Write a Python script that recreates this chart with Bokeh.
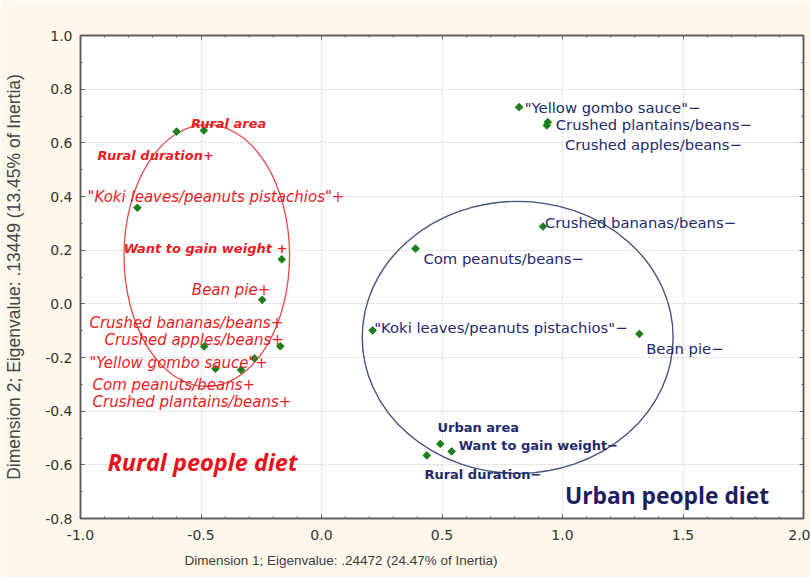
import math
from bokeh.plotting import figure
from bokeh.models import (ColumnDataSource, LinearAxis, Title, FixedTicker,
                          PrintfTickFormatter, Range1d)
from bokeh.core.properties import value
from bokeh.embed import file_html
from bokeh.resources import INLINE

# --- Category coordinates on dimensions 1 and 2 ---------------------------
rural_cats = ["Rural area", "Rural duration", "Koki leaves/peanuts pistachios",
              "Want to gain weight", "Bean pie", "Crushed bananas/beans",
              "Crushed apples/beans", "Yellow gombo sauce", "Com peanuts/beans",
              "Crushed plantains/beans"]
rural_dim1 = [-0.488, -0.601, -0.764, -0.165, -0.246, -0.171, -0.487, -0.279, -0.440, -0.334]
rural_dim2 = [0.646, 0.642, 0.358, 0.166, 0.015, -0.158, -0.159, -0.203, -0.242, -0.246]

urban_cats = ["Yellow gombo sauce", "Crushed plantains/beans", "Crushed apples/beans",
              "Crushed bananas/beans", "Com peanuts/beans", "Koki leaves/peanuts pistachios",
              "Bean pie", "Urban area", "Want to gain weight", "Rural duration"]
urban_dim1 = [0.820, 0.939, 0.935, 0.919, 0.390, 0.212, 1.319, 0.493, 0.540, 0.437]
urban_dim2 = [0.733, 0.677, 0.665, 0.288, 0.206, -0.099, -0.112, -0.522, -0.550, -0.565]

# Printed labels (category with its +/- modality)
rural_text = ["Rural area", "Rural duration+", "\"Koki leaves/peanuts pistachios\"+",
              "Want to gain weight +", "Bean pie+", "Crushed bananas/beans+",
              "Crushed apples/beans+", "\"Yellow gombo sauce\"+", "Com peanuts/beans+",
              "Crushed plantains/beans+"]
urban_text = ["\"Yellow gombo sauce\"\u2212", "Crushed plantains/beans\u2212",
              "Crushed apples/beans\u2212", "Crushed bananas/beans\u2212",
              "Com peanuts/beans\u2212", "\"Koki leaves/peanuts pistachios\"\u2212",
              "Bean pie\u2212", "Urban area", "Want to gain weight\u2212", "Rural duration\u2212"]
rural_bold = [True, True, False, True, False, False, False, False, False, False]
urban_bold = [False, False, False, False, False, False, False, True, True, True]

# Where each label's text starts (left edge, baseline), in axis units
rural_text_x = [-0.542, -0.929, -0.971, -0.821, -0.538, -0.963, -0.900, -0.963, -0.950, -0.950]
rural_text_y = [0.672, 0.553, 0.400, 0.206, 0.053, -0.070, -0.133, -0.219, -0.301, -0.364]
urban_text_x = [0.843, 0.972, 1.010, 0.927, 0.423, 0.219, 1.347, 0.481, 0.569, 0.427]
urban_text_y = [0.732, 0.668, 0.594, 0.303, 0.169, -0.088, -0.166, -0.461, -0.528, -0.636]

x_ticks = [-1.0, -0.5, 0.0, 0.5, 1.0, 1.5, 2.0]
y_ticks = [-0.8, -0.6, -0.4, -0.2, 0.0, 0.2, 0.4, 0.6, 0.8, 1.0]
x_minor = [round(-1.0 + 0.1 * i, 1) for i in range(31)]
y_minor = [round(-0.8 + 0.1 * i, 1) for i in range(19)]

RED = "#ea1c24"
NAVY = "#232a6c"
AXIS = "#5a5a5a"

p = figure(width=810, height=577, x_range=Range1d(-1.0, 2.0), y_range=Range1d(-0.8, 1.0),
           output_backend="svg", toolbar_location=None,
           min_border_left=80, min_border_right=7, min_border_top=35, min_border_bottom=59,
           background_fill_color="white", border_fill_color="#fdf8ea")

xticker = FixedTicker(ticks=x_ticks, minor_ticks=x_minor)
yticker = FixedTicker(ticks=y_ticks, minor_ticks=y_minor)


def style_axis(ax, ticker, labelled):
    ax.ticker = ticker
    ax.formatter = PrintfTickFormatter(format="%.1f")
    ax.axis_line_color = AXIS
    ax.axis_line_width = 1.5
    ax.major_tick_in = 4
    ax.major_tick_out = 0
    ax.minor_tick_in = 2
    ax.minor_tick_out = 0
    ax.major_tick_line_color = AXIS
    ax.minor_tick_line_color = AXIS
    if labelled:
        ax.major_label_text_font = "DejaVu Sans"
        ax.major_label_text_font_size = "14px"
        ax.major_label_text_color = "#333333"
    else:
        # tick marks only on the opposite sides of the frame
        ax.major_label_text_color = None
        ax.major_label_text_font_size = "1px"
        ax.major_label_standoff = 0


style_axis(p.xaxis[0], xticker, True)
style_axis(p.yaxis[0], yticker, True)
p.xaxis[0].major_label_standoff = 11
p.yaxis[0].major_label_standoff = 8

p.yaxis[0].axis_label = "Dimension 2; Eigenvalue: .13449 (13.45% of Inertia)"
p.yaxis[0].axis_label_text_font = "Liberation Sans"
p.yaxis[0].axis_label_text_font_size = "17.5px"
p.yaxis[0].axis_label_text_font_style = "normal"
p.yaxis[0].axis_label_text_color = "#444444"
p.yaxis[0].axis_label_standoff = 18

right_ax = LinearAxis()
style_axis(right_ax, yticker, False)
p.add_layout(right_ax, "right")
top_ax = LinearAxis()
style_axis(top_ax, xticker, False)
p.add_layout(top_ax, "above")

# Dimension 1 caption, left-aligned under the frame
xlabel = Title(text="Dimension 1; Eigenvalue: .24472 (24.47% of Inertia)",
               align="left", offset=104, standoff=17, text_font="Liberation Sans",
               text_font_size="13.5px", text_font_style="normal", text_color="#3c3c3c")
p.add_layout(xlabel, "below")

p.xgrid.ticker = xticker
p.ygrid.ticker = yticker
p.grid.grid_line_color = "#d4d4d4"
p.grid.grid_line_dash = "2 2"
p.grid.grid_line_width = 1
p.outline_line_color = AXIS
p.outline_line_width = 1.5

# Confidence ellipses around the two groups
p.ellipse(x=[-0.476], y=[0.180], width=[0.687], height=[0.976],
          fill_color=None, line_color="#e24a4a", line_width=1.3)
p.ellipse(x=[0.814], y=[-0.125], width=[1.290], height=[1.014],
          fill_color=None, line_color="#46517f", line_width=1.4)

# Category points
pts = ColumnDataSource(dict(x=rural_dim1 + urban_dim1, y=rural_dim2 + urban_dim2,
                            name=rural_cats + urban_cats))
p.scatter("x", "y", source=pts, marker="square", angle=math.pi / 4, size=5.4,
          fill_color="#1c7f1c", line_color="#1c7f1c")


def add_labels(texts, xs, ys, bold_flags, color, italic, size):
    for bold in (False, True):
        idx = [i for i, b in enumerate(bold_flags) if b == bold]
        if not idx:
            continue
        src = ColumnDataSource(dict(x=[xs[i] for i in idx], y=[ys[i] for i in idx],
                                    t=[texts[i] for i in idx]))
        if bold:
            style = "bold italic" if italic else "bold"
        else:
            style = "italic" if italic else "normal"
        p.text("x", "y", text="t", source=src, text_color=color,
               text_font=value("DejaVu Sans"),
               text_font_size="13px" if bold else size,
               text_font_style=style, text_baseline="alphabetic", text_align="left")


add_labels(rural_text, rural_text_x, rural_text_y, rural_bold, RED, True, "15px")
add_labels(urban_text, urban_text_x, urban_text_y, urban_bold, NAVY, False, "14.8px")

# Group captions
p.text(x=[-0.888], y=[-0.588], text=["Rural people diet"], text_color="#e8121c",
       text_font=value("Open Sans"), text_font_size="23.5px", text_font_style="bold italic",
       text_baseline="alphabetic", text_align="left")
p.text(x=[1.010], y=[-0.714], text=["Urban people diet"], text_color="#1b205e",
       text_font=value("Open Sans"), text_font_size="22.8px", text_font_style="bold",
       text_baseline="alphabetic", text_align="left")

open("out.html", "w").write(file_html(p, INLINE))
